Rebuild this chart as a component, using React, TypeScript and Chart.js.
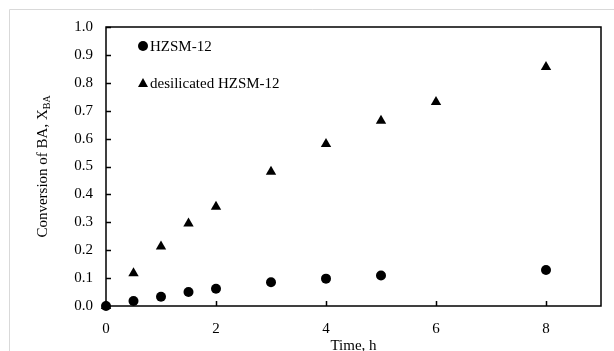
import React, { useEffect, useRef } from "react";
import { Chart, registerables } from "chart.js";

Chart.register(...registerables);

const TIME_HZSM = [0, 0.5, 1, 1.5, 2, 3, 4, 5, 8];
const CONV_HZSM = [0, 0.018, 0.033, 0.05, 0.062, 0.085, 0.098, 0.109, 0.129];
const TIME_DES = [0, 0.5, 1, 1.5, 2, 3, 4, 5, 6, 8];
const CONV_DES = [0, 0.117, 0.213, 0.296, 0.356, 0.481, 0.581, 0.664, 0.731, 0.857];
const X_TICKS = [0, 2, 4, 6, 8];
const Y_TICKS = [0, 0.1, 0.2, 0.3, 0.4, 0.5, 0.6, 0.7, 0.8, 0.9, 1.0];
const SERIES_NAMES = ["HZSM-12", "desilicated HZSM-12"];
const X_TITLE = "Time, h";
const Y_TITLE_MAIN = "Conversion of BA, X";
const Y_TITLE_SUB = "BA";

const FONT = "'Liberation Serif', 'Times New Roman', serif";

const decorPlugin = {
  id: "decor",
  beforeDraw(chart: any) {
    const ctx = chart.ctx;
    ctx.save();
    ctx.strokeStyle = "#d9d9d9";
    ctx.lineWidth = 1;
    ctx.beginPath();
    ctx.moveTo(9.5, 400);
    ctx.lineTo(9.5, 9.5);
    ctx.lineTo(700, 9.5);
    ctx.stroke();
    ctx.restore();
  },
  afterDatasetsDraw(chart: any) {
    const ctx = chart.ctx;
    const { left, top, right, bottom } = chart.chartArea;
    const xs = chart.scales.x;
    const ys = chart.scales.y;
    ctx.save();
    ctx.strokeStyle = "#000";
    ctx.lineWidth = 1.5;
    ctx.strokeRect(left, top, right - left, bottom - top);
    ctx.beginPath();
    for (const v of Y_TICKS) {
      const p = Math.round(ys.getPixelForValue(v)) + 0.5;
      ctx.moveTo(left, p);
      ctx.lineTo(left + 5, p);
    }
    for (const v of X_TICKS) {
      const p = Math.round(xs.getPixelForValue(v)) + 0.5;
      ctx.moveTo(p, bottom);
      ctx.lineTo(p, bottom - 5);
    }
    ctx.stroke();

    // legend inside plot area
    const lx = left + 37;
    const ly1 = top + 19;
    const ly2 = top + 56;
    ctx.fillStyle = "#000";
    ctx.beginPath();
    ctx.arc(lx, ly1, 5, 0, Math.PI * 2);
    ctx.fill();
    ctx.beginPath();
    ctx.moveTo(lx, ly2 - 5);
    ctx.lineTo(lx + 5, ly2 + 4);
    ctx.lineTo(lx - 5, ly2 + 4);
    ctx.closePath();
    ctx.fill();
    ctx.font = `15px ${FONT}`;
    ctx.textBaseline = "middle";
    ctx.textAlign = "left";
    ctx.fillText(SERIES_NAMES[0], lx + 7, ly1 + 1);
    ctx.fillText(SERIES_NAMES[1], lx + 7, ly2 + 1);

    // x title
    ctx.textAlign = "center";
    ctx.textBaseline = "alphabetic";
    ctx.fillText(X_TITLE, (left + right) / 2, 350);

    // y title with subscript
    ctx.translate(47, (top + bottom) / 2);
    ctx.rotate(-Math.PI / 2);
    ctx.font = `15px ${FONT}`;
    const w1 = ctx.measureText(Y_TITLE_MAIN).width;
    ctx.font = `10px ${FONT}`;
    const w2 = ctx.measureText(Y_TITLE_SUB).width;
    const start = -(w1 + w2) / 2;
    ctx.textAlign = "left";
    ctx.font = `15px ${FONT}`;
    ctx.fillText(Y_TITLE_MAIN, start, 0);
    ctx.font = `10px ${FONT}`;
    ctx.fillText(Y_TITLE_SUB, start + w1, 3);
    ctx.restore();
  },
};

export default function App() {
  const ref = useRef<HTMLCanvasElement>(null);
  useEffect(() => {
    document.body.style.margin = "0";
    const chart = new Chart(ref.current!, {
      type: "scatter",
      data: {
        datasets: [
          {
            label: SERIES_NAMES[1],
            data: TIME_DES.map((t, i) => ({ x: t, y: CONV_DES[i] })),
            pointStyle: "triangle",
            pointRadius: 6,
            backgroundColor: "#000",
            borderColor: "#000",
            borderWidth: 0,
            clip: false as any,
          },
          {
            label: SERIES_NAMES[0],
            data: TIME_HZSM.map((t, i) => ({ x: t, y: CONV_HZSM[i] })),
            pointStyle: "circle",
            pointRadius: 5,
            backgroundColor: "#000",
            borderColor: "#000",
            borderWidth: 0,
            clip: false as any,
          },
        ],
      },
      options: {
        animation: false,
        responsive: false,
        layout: { padding: { left: 0, top: 27, right: 13, bottom: 0 } },
        plugins: { legend: { display: false }, tooltip: { enabled: false } },
        scales: {
          x: {
            type: "linear",
            min: 0,
            max: 9,
            grid: { display: false, drawTicks: false },
            border: { display: false },
            afterBuildTicks: (s: any) => {
              s.ticks = X_TICKS.map((v) => ({ value: v }));
            },
            afterFit: (s: any) => {
              s.height = 45;
            },
            ticks: {
              padding: 14,
              color: "#000",
              font: { family: FONT, size: 15 },
              maxRotation: 0,
            },
          },
          y: {
            type: "linear",
            min: 0,
            max: 1,
            grid: { display: false, drawTicks: false },
            border: { display: false },
            afterBuildTicks: (s: any) => {
              s.ticks = Y_TICKS.map((v) => ({ value: v }));
            },
            afterFit: (s: any) => {
              s.width = 106;
            },
            ticks: {
              padding: 13,
              color: "#000",
              font: { family: FONT, size: 15 },
              callback: (v: any) => Number(v).toFixed(1),
            },
          },
        },
      },
      plugins: [decorPlugin],
    });
    return () => chart.destroy();
  }, []);
  return (
    <canvas
      ref={ref}
      width={614}
      height={351}
      style={{ display: "block", width: 614, height: 351 }}
    />
  );
}
